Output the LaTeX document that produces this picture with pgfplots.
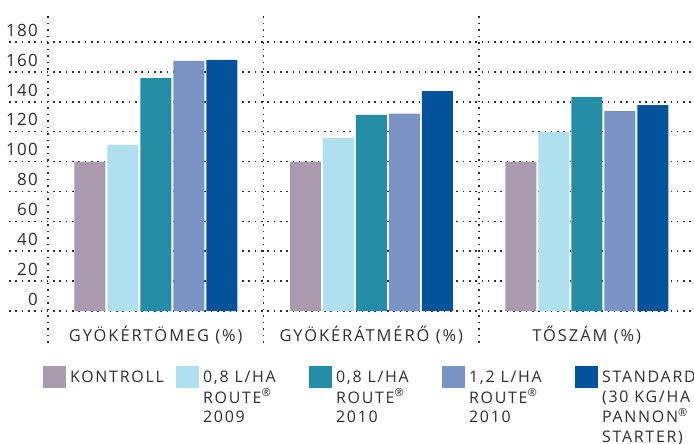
\documentclass[border=0pt]{standalone}
\usepackage{fontspec}
\setmainfont{Open Sans}[LetterSpace=8]
\usepackage{pgfplots}
\pgfplotsset{compat=1.18}

\definecolor{ckontroll}{HTML}{AA9AAD}
\definecolor{clight}{HTML}{AEE0F0}
\definecolor{cteal}{HTML}{268DA6}
\definecolor{clav}{HTML}{7B93C4}
\definecolor{cdark}{HTML}{03529C}
\definecolor{txt}{HTML}{2E2E2E}

\pgfplotsset{
  sq/.style={draw=none, fill=#1,
    legend image code/.code={
      \fill[#1] (0bp,-5.3bp) rectangle (23bp,16.7bp);}},
}
\newcommand{\legtxt}[1]{\makebox[110bp][l]{\hspace*{4bp}\begin{tabular}[t]{@{}l@{}}#1\end{tabular}}}

\begin{document}
\begin{tikzpicture}
\useasboundingbox (0,0) rectangle (694bp,444bp);
\begin{axis}[
  at={(9bp,101bp)}, anchor=south west,
  scale only axis, width=686bp, height=331bp,
  xmin=-0.681, xmax=2.5023,
  ymin=-21.41, ymax=200.08,
  ybar, bar width=31bp, ybar=2bp,
  axis line style={draw=none},
  major tick length=0pt, minor tick length=0pt,
  ytick={0,20,...,180},
  xtick={0,1,2},
  xticklabels={GYÖKÉRTÖMEG (\%), GYÖKÉRÁTMÉRŐ (\%), TŐSZÁM (\%)},
  minor xtick={-0.5,0.5,1.5,2.5},
  ymajorgrids, xminorgrids,
  major grid style={txt, line width=1.6bp, dash pattern=on 1.6bp off 4.7bp},
  minor grid style={txt, line width=1.6bp, dash pattern=on 1.6bp off 4.9bp},
  /pgf/number format/assume math mode=true,
  yticklabel style={anchor=base east, inner sep=0pt, xshift=29bp, yshift=5.7bp,
    font=\fontsize{17}{20}\selectfont, text=txt},
  xticklabel style={anchor=base, inner sep=0pt, yshift=2bp,
    font=\fontsize{16.5}{20}\selectfont\addfontfeatures{LetterSpace=12}, text=txt},
  legend columns=5,
  legend style={at={(0.04964,-0.06949)}, anchor=north west,
    draw=none, fill=none, inner sep=0pt, outer sep=0pt,
    column sep=0pt, cells={anchor=base west},
    nodes={inner sep=0pt, text=txt},
    font=\fontsize{16}{20}\selectfont\addfontfeatures{LetterSpace=11}},
]
\addplot[sq=ckontroll] coordinates {(0,100) (1,100) (2,100)};
\addlegendentry{\legtxt{KONTROLL}}
\addplot[sq=clight] coordinates {(0,111.1) (1,115.8) (2,119.8)};
\addlegendentry{\legtxt{0,8 L/HA\\ROUTE\textsuperscript{®}\\2009}}
\addplot[sq=cteal] coordinates {(0,155.9) (1,131.2) (2,143.2)};
\addlegendentry{\legtxt{0,8 L/HA\\ROUTE\textsuperscript{®}\\2010}}
\addplot[sq=clav] coordinates {(0,167.3) (1,132.0) (2,133.8)};
\addlegendentry{\legtxt{1,2 L/HA\\ROUTE\textsuperscript{®}\\2010}}
\addplot[sq=cdark] coordinates {(0,168.0) (1,147.2) (2,137.8)};
\addlegendentry{\legtxt{STANDARD\\(30 KG/HA\\PANNON\textsuperscript{®}\\STARTER)}}
\end{axis}
\end{tikzpicture}
\end{document}
